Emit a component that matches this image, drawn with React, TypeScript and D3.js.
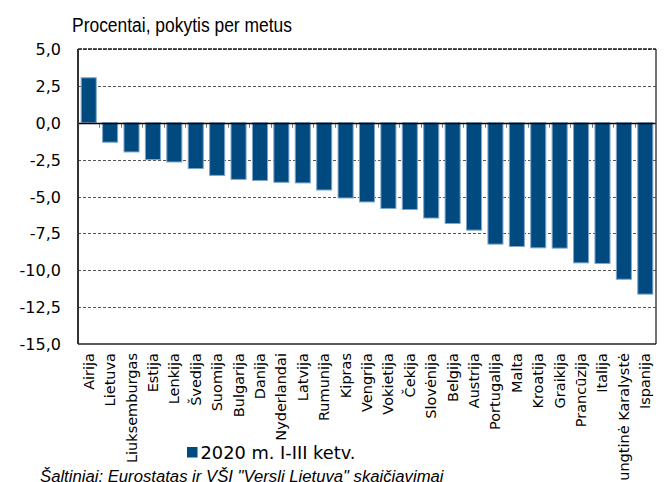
import React from "react";
import * as d3 from "d3";

const categories = ["Airija","Lietuva","Liuksemburgas","Estija","Lenkija","Švedija","Suomija","Bulgarija","Danija","Nyderlandai","Latvija","Rumunija","Kipras","Vengrija","Vokietija","Čekija","Slovėnija","Belgija","Austrija","Portugalija","Malta","Kroatija","Graikija","Prancūzija","Italija","Jungtinė Karalystė","Ispanija"];
const values = [3.05,-1.32,-1.98,-2.5,-2.66,-3.11,-3.57,-3.84,-3.91,-4.04,-4.08,-4.56,-5.1,-5.37,-5.81,-5.88,-6.46,-6.83,-7.28,-8.23,-8.39,-8.48,-8.5,-9.5,-9.54,-10.61,-11.62];
const yTicks = [5,2.5,0,-2.5,-5,-7.5,-10,-12.5,-15];
const seriesName = "2020 m. I-III ketv.";
const title = "Procentai, pokytis per metus";
const source = "Šaltiniai: Eurostatas ir VŠĮ \"Versli Lietuva\" skaičiavimai";

const W = 664, H = 482;
const left = 78, right = 656, top = 49, bottom = 344;
const fill = "#004A80";
const edge = "#7FA6CC";

export default function App() {
  const x = d3.scaleBand<string>().domain(categories).range([left, right]).paddingInner(0.25).paddingOuter(0.125);
  const y = d3.scaleLinear().domain([-15, 5]).range([bottom, top]);
  const fmt = (v: number) => v.toFixed(1).replace(".", ",");
  const step = x.step();
  const bw = x.bandwidth();
  return (
    <svg width={W} height={H} style={{ position: "absolute", left: 0, top: 0, background: "#fff" }}>
      <text x={72} y={31.5} fontFamily="Liberation Sans, Arial" fontSize={20} textLength={220} lengthAdjust="spacingAndGlyphs" fill="#000">{title}</text>
      {yTicks.filter(t => t !== 0 && t !== -15).map(t => (
        <line key={t} x1={left} x2={right} y1={Math.round(y(t)) + 0.5} y2={Math.round(y(t)) + 0.5} stroke="#555" strokeWidth={1} strokeDasharray="3,2" />
      ))}
      {values.map((v, i) => {
        const c = categories[i];
        const y0 = y(0), y1 = y(v);
        return <rect key={c} x={(x(c) as number) + 0.5} y={Math.min(y0, y1)} width={bw - 1} height={Math.abs(y1 - y0)} fill={fill} stroke={edge} strokeWidth={1} />;
      })}
      {categories.slice(1).map((c) => (
        <line key={"t" + c} x1={Math.round((x(c) as number) - (step - bw) / 2) + 0.5} x2={Math.round((x(c) as number) - (step - bw) / 2) + 0.5} y1={y(0)} y2={y(0) + 5} stroke="#777" strokeWidth={1} />
      ))}
      <line x1={left} x2={right} y1={Math.round(y(0)) + 0.5} y2={Math.round(y(0)) + 0.5} stroke="#000" strokeWidth={1.5} />
      <line x1={right} x2={right} y1={top} y2={bottom} stroke="#444" strokeWidth={1.5} />
      <line x1={left} x2={right} y1={bottom} y2={bottom} stroke="#222" strokeWidth={1.5} />
      <line x1={left} x2={right} y1={top} y2={top} stroke="#222" strokeWidth={1.5} strokeDasharray="4,1" />
      <line x1={left} x2={left} y1={top} y2={bottom} stroke="#333" strokeWidth={2} />
      {yTicks.map(t => (
        <text key={"l" + t} x={61} y={y(t) + 6} textAnchor="end" fontFamily="DejaVu Sans, Verdana" fontSize={16} fill="#000">{fmt(t)}</text>
      ))}
      {categories.map(c => {
        const cx = (x(c) as number) + bw / 2 + 5;
        return <text key={"c" + c} transform={`translate(${cx},353) rotate(-90)`} textAnchor="end" fontFamily="DejaVu Sans, Verdana" fontSize={14.5} fill="#000">{c}</text>;
      })}
      <rect x={187} y={447} width={10.5} height={10.5} fill={fill} />
      <text x={200.5} y={458.5} fontFamily="DejaVu Sans, Verdana" fontSize={17.8} fill="#000">{seriesName}</text>
      <text x={40} y={482} fontFamily="Liberation Sans, Arial" fontStyle="italic" fontSize={16.7} fill="#000">{source}</text>
    </svg>
  );
}
